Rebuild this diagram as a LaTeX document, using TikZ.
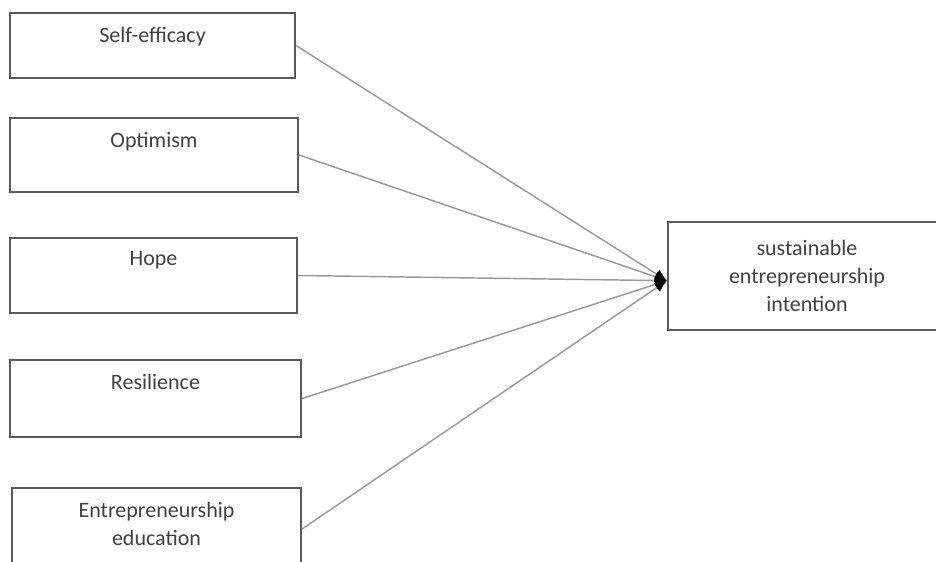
\documentclass[tikz,border=0pt]{standalone}
\usepackage{fontspec}
\setmainfont{Carlito}
\usetikzlibrary{arrows.meta}
\tikzset{every picture/.style={line width=0.75pt}}
\begin{document}
\begin{tikzpicture}[x=0.75pt,y=-0.75pt,
  factor/.style={draw=black!65,line width=1.6pt,rectangle,inner sep=0pt},
  lbl/.style={anchor=north,yshift=-7.5pt,align=center,text=black!75,font=\fontsize{16.5}{21}\selectfont},
  link/.style={draw=black!40,line width=1.1pt,-{Latex[black,length=9pt,width=8pt]}}]
				\useasboundingbox (0,0) rectangle (936,561);
				\clip (0,0) rectangle (936,561);
				% predictors
				\node[factor,minimum width=213.75pt,minimum height=48.75pt,label={[lbl]north:Self-efficacy}] (se) at (152.5,45.5) {};
				\node[factor,minimum width=216pt,minimum height=55.5pt,label={[lbl]north:Optimism}] (op) at (154,155) {};
				\node[factor,minimum width=215.25pt,minimum height=56.25pt,label={[lbl]north:Hope}] (hp) at (153.5,275.5) {};
				\node[factor,minimum width=218.25pt,minimum height=57.75pt,label={[lbl]north:Resilience}] (rs) at (155.5,398.5) {};
				\node[factor,minimum width=216.75pt,minimum height=61.5pt,label={[lbl]north:Entrepreneurship\\education}] (ed) at (156.5,529) {};
				% outcome
				\node[factor,minimum width=208.5pt,minimum height=81pt,align=center,text=black!75,font=\fontsize{16.5}{21}\selectfont] (sei) at (807,276) {sustainable\\entrepreneurship\\intention};
				\coordinate (tip) at ([yshift=-3.5pt]sei.west);
				\foreach \n in {se,op,hp,rs,ed}
					\draw[link] (\n.east) -- (tip);
\end{tikzpicture}
\end{document}
